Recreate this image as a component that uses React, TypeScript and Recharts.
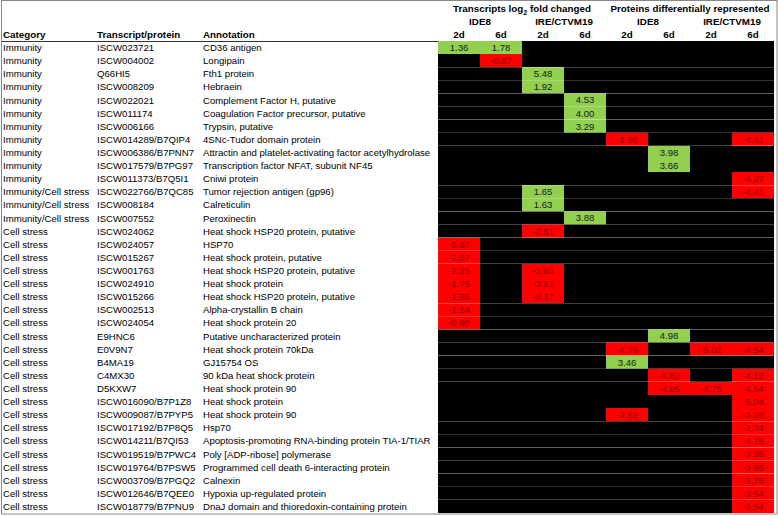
import React from 'react';
import { BarChart, Bar, XAxis, YAxis, Cell, LabelList } from 'recharts';

const _ = null;

const categories = [
  'Immunity', 'Immunity', 'Immunity', 'Immunity', 'Immunity', 'Immunity',
  'Immunity', 'Immunity', 'Immunity', 'Immunity', 'Immunity', 'Immunity/Cell stress',
  'Immunity/Cell stress', 'Immunity/Cell stress', 'Cell stress', 'Cell stress', 'Cell stress', 'Cell stress',
  'Cell stress', 'Cell stress', 'Cell stress', 'Cell stress', 'Cell stress', 'Cell stress',
  'Cell stress', 'Cell stress', 'Cell stress', 'Cell stress', 'Cell stress', 'Cell stress',
  'Cell stress', 'Cell stress', 'Cell stress', 'Cell stress', 'Cell stress', 'Cell stress',
];

const transcripts = [
  'ISCW023721', 'ISCW004002', 'Q66HI5', 'ISCW008209', 'ISCW022021', 'ISCW011174',
  'ISCW006166', 'ISCW014289/B7QIP4', 'ISCW006386/B7PNN7', 'ISCW017579/B7PG97', 'ISCW011373/B7Q5I1', 'ISCW022766/B7QC85',
  'ISCW008184', 'ISCW007552', 'ISCW024062', 'ISCW024057', 'ISCW015267', 'ISCW001763',
  'ISCW024910', 'ISCW015266', 'ISCW002513', 'ISCW024054', 'E9HNC6', 'E0V9N7',
  'B4MA19', 'C4MX30', 'D5KXW7', 'ISCW016090/B7P1Z8', 'ISCW009087/B7PYP5', 'ISCW017192/B7P8Q5',
  'ISCW014211/B7QI53', 'ISCW019519/B7PWC4', 'ISCW019764/B7PSW5', 'ISCW003709/B7PGQ2', 'ISCW012646/B7QEE0', 'ISCW018779/B7PNU9',
];

const annotations = [
  'CD36 antigen', 'Longipain', 'Fth1 protein', 'Hebraein', 'Complement Factor H, putative', 'Coagulation Factor precursor, putative',
  'Trypsin, putative', '4SNc-Tudor domain protein', 'Attractin and platelet-activating factor acetylhydrolase', 'Transcription factor NFAT, subunit NF45', 'Cniwi protein', 'Tumor rejection antigen (gp96)',
  'Calreticulin', 'Peroxinectin', 'Heat shock HSP20 protein, putative', 'HSP70', 'Heat shock protein, putative', 'Heat shock HSP20 protein, putative',
  'Heat shock protein', 'Heat shock HSP20 protein, putative', 'Alpha-crystallin B chain', 'Heat shock protein 20', 'Putative uncharacterized protein', 'Heat shock protein 70kDa',
  'GJ15754 OS', '90 kDa heat shock protein', 'Heat shock protein 90', 'Heat shock protein', 'Heat shock protein 90', 'Hsp70',
  'Apoptosis-promoting RNA-binding protein TIA-1/TIAR', 'Poly [ADP-ribose] polymerase', 'Programmed cell death 6-interacting protein', 'Calnexin', 'Hypoxia up-regulated protein', 'DnaJ domain and thioredoxin-containing protein',
];

// transcripts log2 fold change
const transcriptIde8_2d = [
  1.36, _, _, _, _, _,
  _, _, _, _, _, _,
  _, _, _, -5.87, -2.87, -2.25,
  -1.75, -1.55, -1.14, -0.85, _, _,
  _, _, _, _, _, _,
  _, _, _, _, _, _,
];
const transcriptIde8_6d = [
  1.78, -0.87, _, _, _, _,
  _, _, _, _, _, _,
  _, _, _, _, _, _,
  _, _, _, _, _, _,
  _, _, _, _, _, _,
  _, _, _, _, _, _,
];
const transcriptIre_2d = [
  _, _, 5.48, 1.92, _, _,
  _, _, _, _, _, 1.65,
  1.63, _, -2.51, _, _, -3.63,
  -3.21, -3.17, _, _, _, _,
  _, _, _, _, _, _,
  _, _, _, _, _, _,
];
const transcriptIre_6d = [
  _, _, _, _, 4.53, 4.0,
  3.29, _, _, _, _, _,
  _, 3.88, _, _, _, _,
  _, _, _, _, _, _,
  _, _, _, _, _, _,
  _, _, _, _, _, _,
];

// proteins differentially represented
const proteinIde8_2d = [
  _, _, _, _, _, _,
  _, -1.96, _, _, _, _,
  _, _, _, _, _, _,
  _, _, _, _, _, -4.79,
  3.46, _, _, _, -3.52, _,
  _, _, _, _, _, _,
];
const proteinIde8_6d = [
  _, _, _, _, _, _,
  _, _, 3.98, 3.66, _, _,
  _, _, _, _, _, _,
  _, _, _, _, 4.98, _,
  _, -4.82, -4.95, _, _, _,
  _, _, _, _, _, _,
];
const proteinIre_2d = [
  _, _, _, _, _, _,
  _, _, _, _, _, _,
  _, _, _, _, _, _,
  _, _, _, _, _, -5.02,
  _, _, -4.75, _, _, _,
  _, _, _, _, _, _,
];
const proteinIre_6d = [
  _, _, _, _, _, _,
  _, -4.41, _, _, -4.27, -4.41,
  _, _, _, _, _, _,
  _, _, _, _, _, -4.54,
  _, -4.12, -4.54, -5.04, -3.28, -2.34,
  -4.76, -3.95, -3.95, -3.75, -3.54, -3.54,
];

const series = [
  transcriptIde8_2d, transcriptIde8_6d, transcriptIre_2d, transcriptIre_6d,
  proteinIde8_2d, proteinIde8_6d, proteinIre_2d, proteinIre_6d,
];
const timepoints = ['2d', '6d', '2d', '6d', '2d', '6d', '2d', '6d'];
const cellLines = ['IDE8', 'IRE/CTVM19', 'IDE8', 'IRE/CTVM19'];
const tableHeaders = ['Category', 'Transcript/protein', 'Annotation'];

const W = 778;
const H = 516;
const margin = { top: 0, right: 4, bottom: 3, left: 0 };
const LEFT_W = 438;
const HEAD_H = 41;
const colW = (W - margin.left - margin.right - LEFT_W) / series.length;
const FONT = 'Liberation Sans, Arial, sans-serif';
const GREEN = '#92D050';
const RED = '#FF0000';

const rows = categories.map((c, i) => {
  const r: Record<string, any> = { row: i, category: c };
  series.forEach((s, k) => {
    r[`v${k}`] = s[i];
    r[`w${k}`] = 1;
  });
  return r;
});

const fillFor = (v: number | null) => (v == null ? '#000' : v > 0 ? GREEN : RED);

const RowTick = ({ y, payload }: any) => {
  const i = payload.value;
  return (
    <g fontFamily={FONT} fontSize={9.6} fill="#000">
      <text x={3} y={y} dy={3.5}>{categories[i]}</text>
      <text x={97} y={y} dy={3.5}>{transcripts[i]}</text>
      <text x={203} y={y} dy={3.5}>{annotations[i]}</text>
    </g>
  );
};

const ColumnTick = ({ x, index }: any) => (
  <g fontFamily={FONT} fontSize={9.8} fontWeight="bold" fill="#000" textAnchor="middle">
    <text x={x} y={38}>{timepoints[index]}</text>
    {index % 2 === 0 && <text x={x + colW / 2} y={25}>{cellLines[index / 2]}</text>}
    {index === 0 && (
      <text x={x + colW * 1.5} y={12}>
        Transcripts log<tspan fontSize={7} dy={3}>2</tspan>
        <tspan dy={-3}> fold changed</tspan>
      </text>
    )}
    {index === 4 && <text x={x + colW * 1.5} y={12}>Proteins differentially represented</text>}
  </g>
);

const renderValue = (props: any) => {
  const { x, y, width, height, value } = props;
  if (value == null) return null;
  return (
    <text
      x={x + width / 2}
      y={y + height / 2}
      dy={3.5}
      textAnchor="middle"
      fontFamily={FONT}
      fontSize={9.6}
      fill={value > 0 ? '#1a1a1a' : '#8a0000'}
    >
      {value.toFixed(2)}
    </text>
  );
};

export default function App() {
  return (
    <div style={{ position: 'absolute', left: 0, top: 0, background: '#fff' }}>
      <BarChart
        width={W}
        height={H}
        data={rows}
        layout="vertical"
        margin={margin}
        barCategoryGap={0}
        barGap={0}
      >
        <XAxis
          type="number"
          orientation="top"
          domain={[0, series.length]}
          ticks={series.map((_s, k) => k + 0.5)}
          height={HEAD_H}
          axisLine={false}
          tickLine={false}
          tick={ColumnTick}
          interval={0}
        />
        <YAxis
          type="category"
          dataKey="row"
          width={LEFT_W}
          axisLine={false}
          tickLine={false}
          tick={RowTick}
          interval={0}
        />
        {series.map((s, k) => (
          <Bar key={k} dataKey={`w${k}`} stackId="grid" isAnimationActive={false}>
            {s.map((v, i) => (
              <Cell key={i} fill={fillFor(v)} />
            ))}
            <LabelList dataKey={`v${k}`} content={renderValue} />
          </Bar>
        ))}
        <g fontFamily={FONT} fontSize={9.8} fontWeight="bold" fill="#000">
          <text x={3} y={38}>{tableHeaders[0]}</text>
          <text x={97} y={38}>{tableHeaders[1]}</text>
          <text x={203} y={38}>{tableHeaders[2]}</text>
        </g>
        <line x1={2} y1={HEAD_H + 0.5} x2={LEFT_W} y2={HEAD_H + 0.5} stroke="#333" strokeWidth={1} />
        <rect x={1.5} y={0.5} width={W - 2.5} height={H - 2.5} fill="none" stroke="#888" strokeWidth={1} />
      </BarChart>
    </div>
  );
}
